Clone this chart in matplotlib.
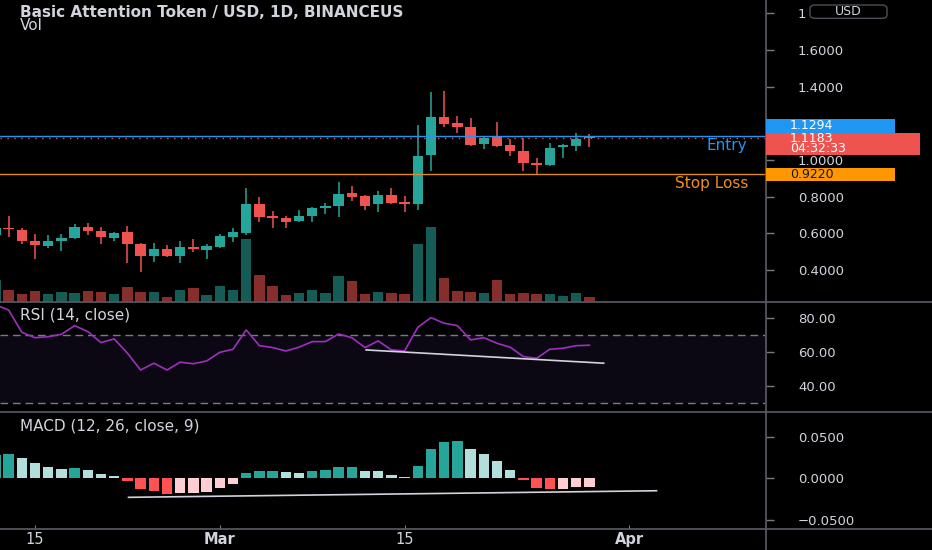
import numpy as np
import pandas as pd
import matplotlib
matplotlib.use("Agg")
import matplotlib.pyplot as plt
from matplotlib.patches import Rectangle, FancyBboxPatch
from matplotlib.lines import Line2D
from matplotlib.ticker import FuncFormatter

# ---------------- data ----------------
dates = pd.date_range("2021-02-12", "2021-03-29", freq="D")

opens = [0.592, 0.631, 0.619, 0.559, 0.533, 0.557, 0.574, 0.637, 0.615, 0.577,
         0.606, 0.542, 0.477, 0.514, 0.477, 0.524, 0.510, 0.528, 0.582, 0.601,
         0.761, 0.695, 0.683, 0.668, 0.695, 0.740, 0.749, 0.819, 0.804, 0.759,
         0.810, 0.770, 0.761, 1.028, 1.233, 1.204, 1.182, 1.086, 1.124, 1.082,
         1.051, 0.982, 0.973, 1.073, 1.079, 1.126]
highs = [0.640, 0.695, 0.628, 0.597, 0.592, 0.597, 0.650, 0.659, 0.637, 0.610,
         0.642, 0.546, 0.550, 0.537, 0.557, 0.568, 0.542, 0.597, 0.628, 0.846,
         0.797, 0.724, 0.697, 0.728, 0.742, 0.764, 0.879, 0.860, 0.810, 0.832,
         0.850, 0.804, 1.191, 1.370, 1.377, 1.240, 1.228, 1.133, 1.209, 1.113,
         1.119, 1.013, 1.092, 1.088, 1.146, 1.142]
lows = [0.575, 0.579, 0.542, 0.459, 0.522, 0.506, 0.572, 0.592, 0.542, 0.561,
        0.440, 0.391, 0.444, 0.473, 0.440, 0.500, 0.459, 0.522, 0.552, 0.592,
        0.664, 0.631, 0.631, 0.661, 0.664, 0.705, 0.688, 0.778, 0.728, 0.715,
        0.761, 0.719, 0.728, 0.942, 1.182, 1.146, 1.077, 1.061, 1.070, 1.022,
        0.942, 0.924, 0.969, 1.010, 1.051, 1.073]
closes = [0.628, 0.623, 0.559, 0.537, 0.559, 0.575, 0.637, 0.613, 0.582, 0.604,
          0.542, 0.477, 0.514, 0.479, 0.524, 0.514, 0.532, 0.586, 0.606, 0.761,
          0.691, 0.683, 0.664, 0.695, 0.740, 0.750, 0.815, 0.800, 0.751, 0.810,
          0.764, 0.761, 1.022, 1.233, 1.197, 1.182, 1.081, 1.122, 1.078, 1.051,
          0.982, 0.973, 1.068, 1.082, 1.115, 1.1183]
volume_m = [2.17, 1.17, 0.83, 1.10, 0.83, 0.97, 0.90, 1.10, 1.03, 0.83,
            1.47, 1.03, 0.97, 0.47, 1.17, 1.37, 0.67, 1.57, 1.17, 6.30,
            2.67, 1.57, 0.73, 0.93, 1.17, 0.93, 2.63, 2.07, 0.83, 1.03,
            0.87, 0.80, 5.83, 7.50, 2.37, 1.13, 1.03, 0.90, 2.17, 0.80,
            0.87, 0.80, 0.83, 0.57, 0.90, 0.53]
rsi = [87.5, 84.5, 71.4, 68.2, 68.8, 70.2, 75.3, 71.8, 65.3, 67.5,
       59.1, 49.2, 53.2, 49.2, 53.8, 52.9, 54.5, 59.6, 61.4, 72.8,
       63.5, 62.4, 60.4, 62.6, 65.9, 65.9, 70.4, 68.2, 62.4, 66.3,
       61.0, 60.4, 74.3, 80.0, 76.7, 75.3, 66.9, 68.2, 64.9, 62.6,
       57.1, 56.1, 61.4, 62.0, 63.5, 63.8]
macd_hist = [0.0280, 0.0292, 0.0240, 0.0180, 0.0139, 0.0108, 0.0120, 0.0103, 0.0055, 0.0031,
             -0.0032, -0.0125, -0.0152, -0.0192, -0.0180, -0.0178, -0.0160, -0.0116, -0.0068, 0.0060,
             0.0091, 0.0093, 0.0076, 0.0068, 0.0091, 0.0095, 0.0132, 0.0134, 0.0091, 0.0090,
             0.0043, 0.0016, 0.0151, 0.0352, 0.0440, 0.0444, 0.0348, 0.0288, 0.0204, 0.0096,
             -0.0024, -0.0120, -0.0126, -0.0122, -0.0101, -0.0098]

# visible price-scale labels (1.2000 sits under the price boxes, 1.8000 under the USD button)
price_ticks = [0.4, 0.6, 0.8, 1.0, 1.4, 1.6, 1.8]
price_tick_labels = ["0.4000", "0.6000", "0.8000", "1.0000", "1.4000", "1.6000", "1"]
rsi_ticks = [40, 60, 80]
macd_ticks = [-0.05, 0.0, 0.05]
time_ticks = ["2021-02-15", "2021-03-01", "2021-03-15", "2021-04-01"]
time_labels = ["15", "Mar", "15", "Apr"]

entry_price = 1.1294
last_price = 1.1183
stop_loss = 0.9220
countdown = "04:32:33"
rsi_levels = [70, 30]
rsi_trend_dates = ["2021-03-12 02:00", "2021-03-30 02:00"]
rsi_trend_vals = [61.0, 53.2]
macd_trend_dates = ["2021-02-22 02:00", "2021-04-03 02:00"]
macd_trend_vals = [-0.0228, -0.0149]

title = "Basic Attention Token / USD, 1D, BINANCEUS"

# ---------------- style ----------------
W, H, DPI = 932, 550, 100
BG = "#000000"
SEP = "#55575f"
TXT = "#d1d4dc"
TICK = "#787b86"
UP, DOWN = "#26a69a", "#ef5350"
UP_L, DOWN_L = "#b2dfdb", "#ffcdd2"
MACD_DOWN = "#ff5252"
BLUE = "#2196f3"
ORANGE = "#ff9800"
RSI_COL = "#a02ec0"
AXIS_X = 766
XLIM = (-2.652, 55.38)
LBL = 9.5

plt.rcParams["font.family"] = ["DejaVu Sans"]

base = pd.Timestamp("2021-02-15")
def to_x(d):
    return (pd.Timestamp(d) - base) / pd.Timedelta(days=1)

x = np.array([to_x(d) for d in dates])
o = np.array(opens); h = np.array(highs); l = np.array(lows); c = np.array(closes)
cols = [UP if cc >= oo else DOWN for oo, cc in zip(o, c)]

fig = plt.figure(figsize=(W / DPI, H / DPI), dpi=DPI, facecolor=BG)

def pane(top, bottom):
    ax = fig.add_axes([0, 1 - bottom / H, AXIS_X / W, (bottom - top) / H])
    ax.set_facecolor(BG)
    for s in ax.spines.values():
        s.set_visible(False)
    ax.set_xlim(*XLIM)
    return ax

def right_axis(ax, ticks, fmt, labels=None):
    ax.yaxis.tick_right()
    ax.set_yticks(ticks)
    if labels is not None:
        ax.set_yticklabels(labels)
    else:
        ax.yaxis.set_major_formatter(FuncFormatter(
            lambda v, p: (fmt % v).replace("-", "\u2212") if abs(v) > 1e-12 else fmt % 0))
    ax.tick_params(axis="y", colors=TICK, labelcolor=TXT, length=6, width=1,
                   pad=17, labelsize=LBL)

# volume (behind candles)
ax_v = pane(0, 302)
ax_v.bar(x, volume_m, width=0.8, color=cols, alpha=0.56, linewidth=0)
ax_v.set_ylim(0, 30.2)
ax_v.set_xticks([]); ax_v.set_yticks([])

# price
ax_p = pane(0, 302)
ax_p.patch.set_visible(False)
ax_p.vlines(x, l, h, colors=cols, linewidth=1.1)
ax_p.bar(x, np.maximum(np.abs(c - o), 0.004), bottom=np.minimum(o, c),
         width=0.78, color=cols, linewidth=0)
ax_p.set_ylim(0.226, 1.873)
ax_p.set_xticks([])
right_axis(ax_p, price_ticks, "%.4f", price_tick_labels)
ax_p.axhline(entry_price, color=BLUE, lw=1)
ax_p.axhline(last_price, color=DOWN, lw=1, ls=(0, (1, 4)))
ax_p.axhline(stop_loss, color="#e08a1e", lw=1)
ax_p.annotate("Entry", xy=(747 / AXIS_X, entry_price), xycoords=("axes fraction", "data"),
              xytext=(0, -9), textcoords="offset pixels", ha="right", va="center",
              color=BLUE, fontsize=11)
ax_p.annotate("Stop Loss", xy=(748 / AXIS_X, stop_loss), xycoords=("axes fraction", "data"),
              xytext=(0, -9), textcoords="offset pixels", ha="right", va="center",
              color="#f09020", fontsize=11)

# RSI
ax_r = pane(302, 412)
ax_r.axhspan(rsi_levels[1], rsi_levels[0], facecolor="#7e57c2", alpha=0.1, lw=0)
for lv in rsi_levels:
    ax_r.axhline(lv, color=TICK, lw=1, ls=(0, (5.5, 3.5)))
ax_r.plot(x, rsi, color=RSI_COL, lw=1.2)
ax_r.plot([to_x(d) for d in rsi_trend_dates], rsi_trend_vals, color=TXT, lw=1.2)
ax_r.set_ylim(24.5, 89.2)
ax_r.set_xticks([])
right_axis(ax_r, rsi_ticks, "%.2f")

# MACD histogram
ax_m = pane(412, 529)
mcols = []
prev = None
for v in macd_hist:
    rising = prev is None or v >= prev
    if v >= 0:
        mcols.append(UP if rising else UP_L)
    else:
        mcols.append(DOWN_L if rising else MACD_DOWN)
    prev = v
ax_m.bar(x, macd_hist, width=0.78, color=mcols, linewidth=0)
ax_m.plot([to_x(d) for d in macd_trend_dates], macd_trend_vals, color=TXT, lw=1.2)
ax_m.set_ylim(-0.0608, 0.0796)
right_axis(ax_m, macd_ticks, "%.4f")
ax_m.set_xticks([to_x(d) for d in time_ticks])
ax_m.set_xticklabels(time_labels)
ax_m.tick_params(axis="x", direction="in", length=3, colors=TICK, labelcolor=TXT,
                 pad=2, labelsize=10.5)
for t in ax_m.get_xticklabels():
    if not t.get_text().isdigit():
        t.set_fontweight("bold")

# separators and right axis line
for yy in (302, 412, 529):
    fig.add_artist(Line2D([0, 1], [1 - yy / H] * 2, transform=fig.transFigure,
                          color=SEP, lw=1.3))
fig.add_artist(Line2D([AXIS_X / W] * 2, [0, 1], transform=fig.transFigure,
                      color=SEP, lw=1.3))

# legends / titles
fig.text(20 / W, 1 - 12.5 / H, title, fontsize=11, fontweight="bold", color=TXT,
         ha="left", va="center")
fig.text(20 / W, 1 - 26 / H, "Vol", fontsize=11, color=TXT, ha="left", va="center")
fig.text(20 / W, 1 - 315 / H, "RSI (14, close)", fontsize=11, color=TXT, ha="left", va="center")
fig.text(20 / W, 1 - 426 / H, "MACD (12, 26, close, 9)", fontsize=11, color=TXT,
         ha="left", va="center")

# right-side price labels
def ypix(ax, v):
    return H - ax.transData.transform((0, v))[1]

def rbox(top, bottom, x1, color):
    fig.add_artist(Rectangle((AXIS_X / W, 1 - bottom / H), (x1 - AXIS_X) / W,
                             (bottom - top) / H, transform=fig.transFigure,
                             facecolor=color, edgecolor="none", zorder=5))

def rtext(ypx, s, color, size=9, **kw):
    fig.text(790 / W, 1 - ypx / H, s, fontsize=size, color=color, ha="left",
             va="center", zorder=6, **kw)

yb = ypix(ax_p, entry_price) - 10.5
rbox(yb - 6.7, yb + 6.7, 895, BLUE)
rtext(yb, f"{entry_price:.4f}", "white")

yr = ypix(ax_p, last_price)
rbox(yr - 5.8, yr + 17, 920, DOWN)
rtext(yr + 5.4, f"{last_price:.4f}\n{countdown}", "white", linespacing=0.74)

ys = ypix(ax_p, stop_loss)
rbox(ys - 6.5, ys + 6.5, 895, ORANGE)
rtext(ys, f"{stop_loss:.4f}", "#131722")

fig.add_artist(FancyBboxPatch((810 / W, 1 - 18.3 / H), 77 / W, 13.3 / H,
                              boxstyle="round,pad=0,rounding_size=0.006",
                              transform=fig.transFigure, facecolor=BG,
                              edgecolor="#4a4e59", lw=1, zorder=5))
fig.text(848.5 / W, 1 - 11.7 / H, "USD", fontsize=9, color=TXT, ha="center",
         va="center", zorder=6)

fig.savefig("out.png", dpi=DPI, facecolor=BG)
